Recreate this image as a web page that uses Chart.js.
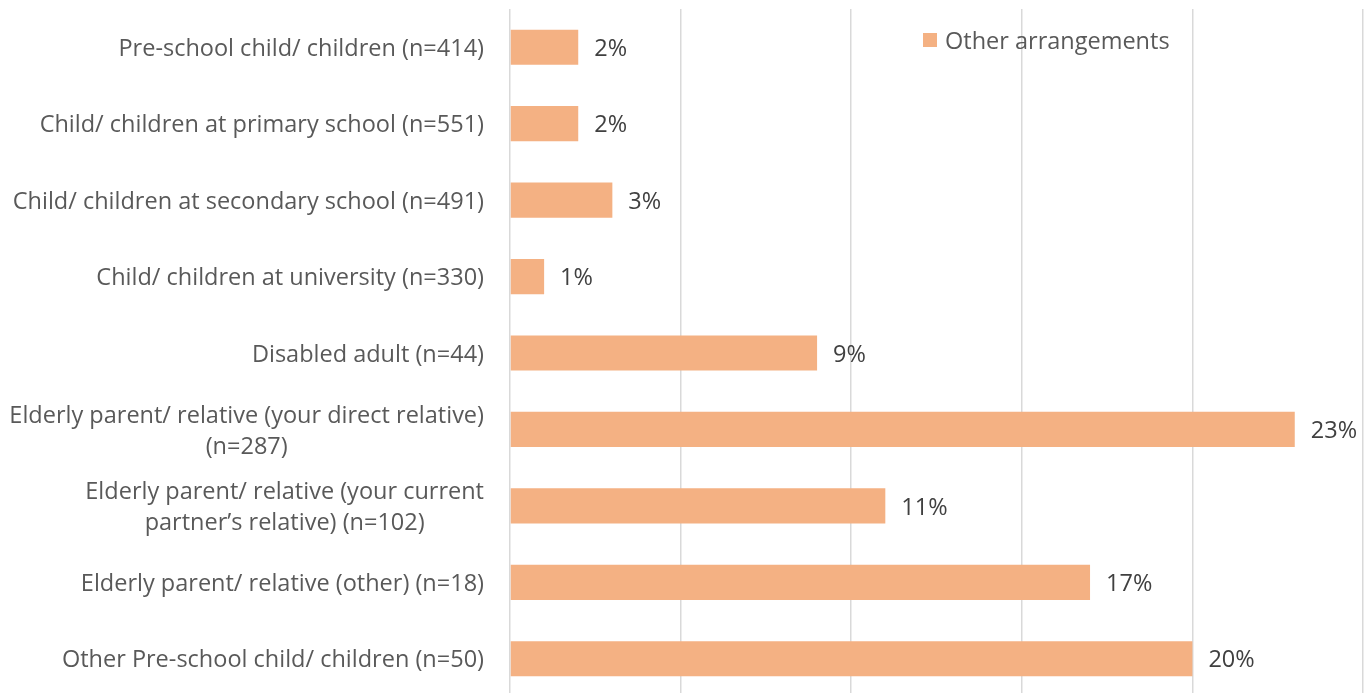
<!DOCTYPE html>
<html>
<head>
<meta charset="utf-8">
<script src="https://cdn.jsdelivr.net/npm/chart.js@4.4.1/dist/chart.umd.min.js"></script>
<style>
  html, body { margin: 0; padding: 0; background: #fff; overflow: hidden; }
  #wrap { width: 1370px; height: 693px; overflow: hidden; }
</style>
</head>
<body>
<div id="wrap"><canvas id="careChart" width="1370" height="700"></canvas></div>
<script>
var categorias = [
    ['Pre-school child/ children (n=414)'],
    ['Child/ children at primary school (n=551)'],
    ['Child/ children at secondary school (n=491)'],
    ['Child/ children at university (n=330)'],
    ['Disabled adult (n=44)'],
    ['Elderly parent/ relative (your direct relative)', '(n=287)'],
    ['Elderly parent/ relative (your current', 'partner\u2019s relative) (n=102)'],
    ['Elderly parent/ relative (other) (n=18)'],
    ['Other Pre-school child/ children (n=50)']
];
var outrosArranjos = [2, 2, 3, 1, 9, 23, 11, 17, 20];
var nomeSerie = 'Other arrangements';
var eixoMax = 25;
var eixoPasso = 5;

var fonte = '"Open Sans", sans-serif';
var tamFonte = 23.5;
var ajusteTexto = 2; // Open Sans sits a bit high with baseline 'middle'

// category labels, multi-line ones centred on their widest line
var rotulosPlugin = {
    id: 'rotulos',
    afterDraw: function (chart) {
        var ctx = chart.ctx;
        var y = chart.scales.y;
        var direita = y.right - 26;
        var alturaLinha = 31;
        ctx.save();
        ctx.font = tamFonte + 'px ' + fonte;
        ctx.fillStyle = '#595959';
        ctx.textAlign = 'center';
        ctx.textBaseline = 'middle';
        $each(categorias, function (i, linhas) {
            var largura = 0;
            linhas.forEach(function (l) { largura = Math.max(largura, ctx.measureText(l).width); });
            var cx = direita - largura / 2;
            var cy = y.getPixelForTick(i) + ajusteTexto - (linhas.length - 1) * alturaLinha / 2;
            linhas.forEach(function (l, k) { ctx.fillText(l, cx, cy + k * alturaLinha); });
        });
        ctx.restore();
    }
};

// value at the end of every bar
var valoresPlugin = {
    id: 'valores',
    afterDatasetsDraw: function (chart) {
        var ctx = chart.ctx;
        var meta = chart.getDatasetMeta(0);
        ctx.save();
        ctx.font = tamFonte + 'px ' + fonte;
        ctx.fillStyle = '#404040';
        ctx.textAlign = 'left';
        ctx.textBaseline = 'middle';
        meta.data.forEach(function (bar, i) {
            ctx.fillText(outrosArranjos[i] + '%', bar.x + 16, bar.y + ajusteTexto);
        });
        ctx.restore();
    }
};

// small legend sitting inside the plot
var legendaPlugin = {
    id: 'legenda',
    afterDraw: function (chart) {
        var ctx = chart.ctx;
        var ds = chart.data.datasets[0];
        ctx.save();
        ctx.fillStyle = ds.backgroundColor;
        ctx.fillRect(923, 33, 14, 14);
        ctx.font = tamFonte + 'px ' + fonte;
        ctx.fillStyle = '#595959';
        ctx.textBaseline = 'middle';
        ctx.fillText(ds.label, 945, 40 + ajusteTexto);
        ctx.restore();
    }
};

function $each(arr, fn) {
    for (var i = 0; i < arr.length; i++) fn(i, arr[i]);
}

var grafico = new Chart(document.getElementById('careChart'), {
    type: 'bar',
    data: {
        labels: categorias,
        datasets: [{
            label: nomeSerie,
            data: outrosArranjos,
            backgroundColor: '#F4B183',
            borderWidth: 0,
            barPercentage: 0.46,
            categoryPercentage: 1
        }]
    },
    options: {
        indexAxis: 'y',
        responsive: false,
        animation: false,
        layout: { padding: { top: 9, right: 7, bottom: 3, left: 0 } },
        plugins: {
            legend: { display: false },
            tooltip: { enabled: false }
        },
        scales: {
            x: {
                min: 0,
                max: eixoMax,
                ticks: { display: false, stepSize: eixoPasso },
                grid: { color: '#d9d9d9', lineWidth: 1.5, drawTicks: false },
                border: { display: false }
            },
            y: {
                ticks: { display: false },
                grid: { display: false },
                border: { display: false },
                afterFit: function (scale) { scale.width = 510; }
            }
        }
    },
    plugins: [valoresPlugin, rotulosPlugin, legendaPlugin]
});
</script>
</body>
</html>
